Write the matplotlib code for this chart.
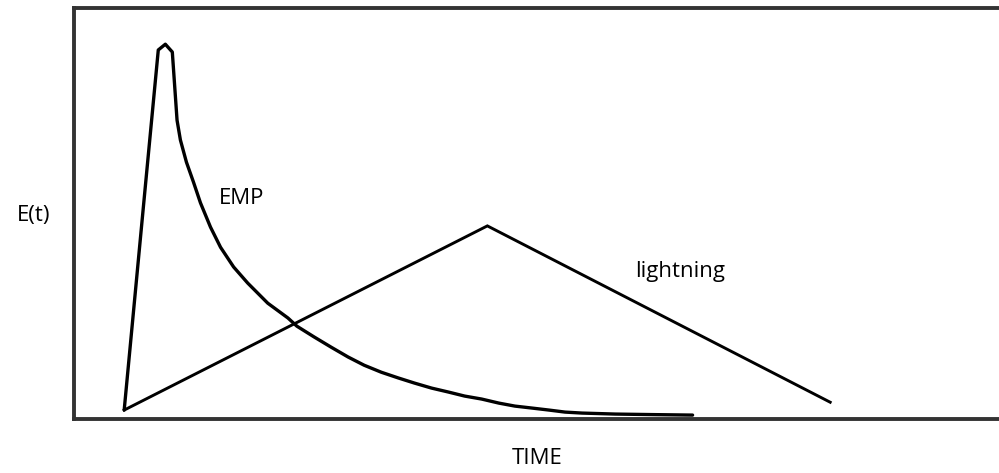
import numpy as np
import matplotlib.pyplot as plt

plt.rcParams['font.family'] = ['Open Sans', 'DejaVu Sans']

# EMP pulse (time, amplitude)
emp_t = [5.41, 7.24, 9.08, 9.84, 10.59, 11.10, 11.46, 12.11, 12.86, 13.62,
         14.70, 15.78, 17.19, 18.70, 20.86, 23.03, 24.00, 25.84, 27.68,
         29.51, 31.24, 33.08, 34.92, 36.65, 38.49, 40.32, 42.05, 43.89,
         45.73, 47.46, 49.30, 51.14, 52.86, 54.70, 58.27, 62.27, 66.59]
emp_e = [2.19, 46.0, 89.8, 91.2, 89.3, 72.7, 67.9, 62.5, 57.7, 52.6,
         46.7, 41.8, 37.0, 33.1, 28.2, 24.6, 22.6, 20.0, 17.5,
         15.1, 13.1, 11.4, 10.0, 8.76, 7.54, 6.57, 5.60, 4.87,
         3.89, 3.16, 2.68, 2.19, 1.70, 1.46, 1.22, 1.09, 0.97]

# lightning pulse (triangle)
light_t = [5.41, 44.5, 81.4]
light_e = [2.19, 47.0, 4.1]

fig = plt.figure(figsize=(9.99, 4.73), dpi=100)
ax = fig.add_axes([0.074, 0.114, 0.93, 0.869])

ax.plot(emp_t, emp_e, color='black', lw=2.4, solid_joinstyle='round',
        solid_capstyle='round')
ax.plot(light_t, light_e, color='black', lw=2.1, solid_joinstyle='miter')

ax.set_xlim(0, 100)
ax.set_ylim(0, 100)
ax.set_xticks([])
ax.set_yticks([])
for side in ['left', 'top', 'bottom']:
    ax.spines[side].set_linewidth(2.8)
    ax.spines[side].set_color('#333333')
ax.spines['right'].set_visible(False)

ax.text(15.6, 53.6, 'EMP', fontsize=16, va='center', ha='left')
ax.text(60.4, 36.0, 'lightning', fontsize=16, va='center', ha='left')

fig.text(0.017, 0.545, 'E(t)', fontsize=16, va='center', ha='left')
fig.text(0.5375, 0.03, 'TIME', fontsize=16, va='center', ha='center')

fig.savefig('out.png', dpi=100)
